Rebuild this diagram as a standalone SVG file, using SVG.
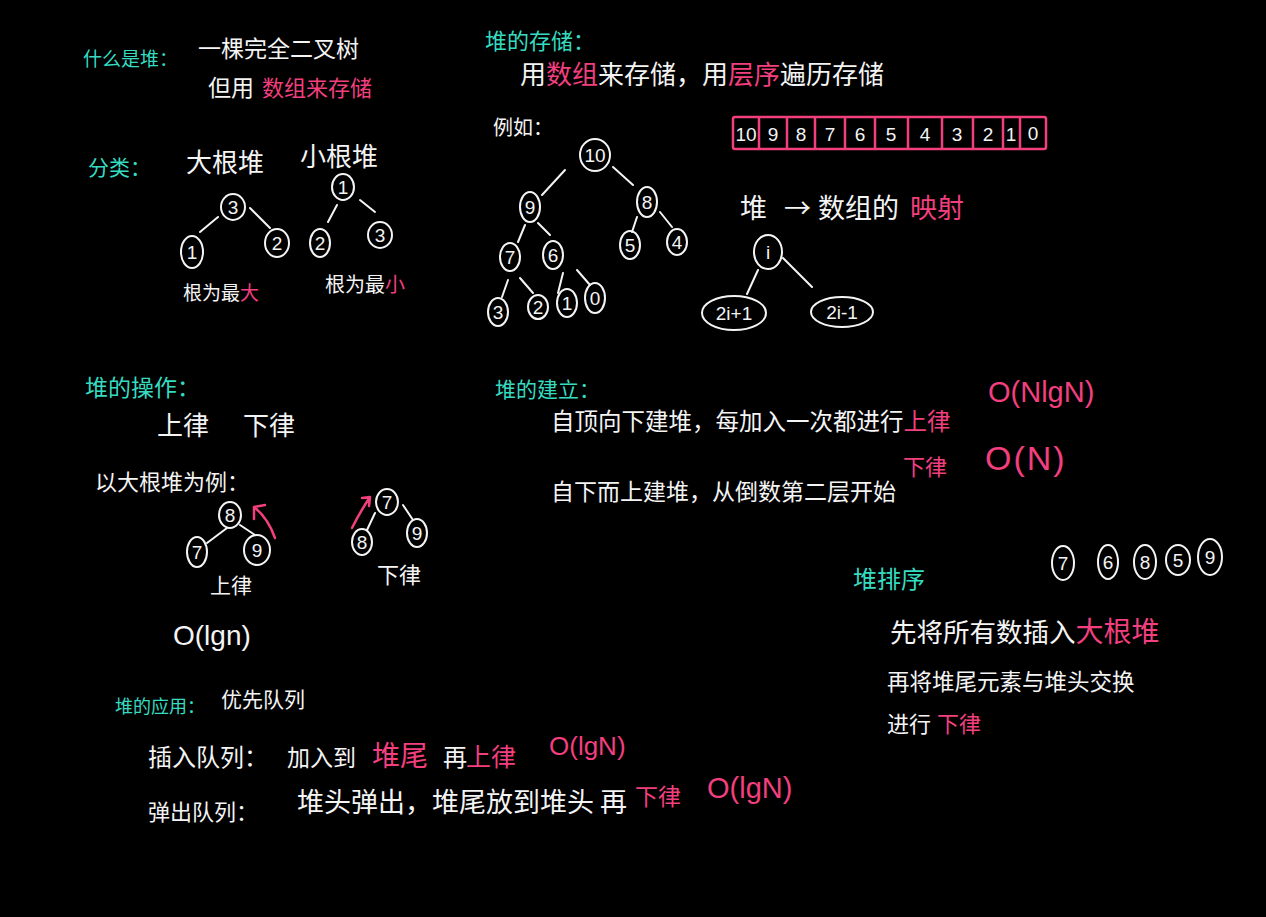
<svg xmlns="http://www.w3.org/2000/svg" width="1266" height="917" viewBox="0 0 1266 917">
<defs><style>
text{font-family:"Noto Sans CJK SC","Noto Sans",sans-serif;fill:#f4f4f4}
.c{fill:#35dcc0}
.p{fill:#f23f7e}
.m{font-family:"Liberation Sans","DejaVu Sans",sans-serif}
.n{font-family:"Liberation Sans","DejaVu Sans",sans-serif;text-anchor:middle;dominant-baseline:central;font-size:19px}
.nd{fill:none;stroke:#f4f4f4;stroke-width:2}
.e{fill:none;stroke:#f4f4f4;stroke-width:2;stroke-linecap:round}
.pa{fill:none;stroke:#f23f7e;stroke-width:2.5;stroke-linecap:round;stroke-linejoin:round}
.ab{fill:none;stroke:#f23f7e;stroke-width:2.5}
</style></defs>
<rect width="1266" height="917" fill="#000"/>

<g id="sec-what">
<text class="c" x="83" y="66" font-size="19">什么是堆：</text>
<text x="198" y="57" font-size="23">一棵完全二叉树</text>
<text x="208" y="96" font-size="23">但用<tspan class="p" x="262" font-size="22">数组来存储</tspan></text>
</g>

<g id="sec-class">
<text class="c" x="88" y="175" font-size="21">分类：</text>
<text x="186" y="172" font-size="26">大根堆</text>
<text x="300" y="166" font-size="26">小根堆</text>
<text x="183" y="300" font-size="19">根为最<tspan class="p">大</tspan></text>
<text x="325" y="292" font-size="20">根为最<tspan class="p">小</tspan></text>
</g>

<g id="sec-storage">
<text class="c" x="485" y="49" font-size="22">堆的存储：</text>
<text x="520" y="84" font-size="26">用<tspan class="p">数组</tspan>来存储，用<tspan class="p">层序</tspan>遍历存储</text>
<text x="493" y="135" font-size="20">例如：</text>
<text y="218" font-size="27"><tspan x="740">堆</tspan><tspan x="784">→</tspan><tspan x="818">数组的</tspan><tspan x="910" class="p">映射</tspan></text>
</g>

<g id="array">
<rect class="ab" x="733" y="117" width="313" height="32" rx="2"/>
<path class="ab" d="M759,117V149M787,117V149M815,117V149M845,117V149M875,117V149M908,117V149M942,117V149M973,117V149M1003,117V149M1020,117V149"/>
<text class="n" x="746" y="134" font-size="17">10</text>
<text class="n" x="773" y="134">9</text>
<text class="n" x="801" y="134">8</text>
<text class="n" x="830" y="134">7</text>
<text class="n" x="860" y="134">6</text>
<text class="n" x="891" y="134">5</text>
<text class="n" x="925" y="134">4</text>
<text class="n" x="957" y="134">3</text>
<text class="n" x="988" y="134">2</text>
<text class="n" x="1011" y="134">1</text>
<text class="n" x="1033" y="133">0</text>
</g>

<g id="sec-ops">
<text class="c" x="85" y="396" font-size="23">堆的操作：</text>
<text x="157" y="435" font-size="26">上律<tspan x="243">下律</tspan></text>
<text x="95" y="490" font-size="22">以大根堆为例：</text>
<text x="210" y="593" font-size="21">上律</text>
<text x="377" y="583" font-size="22">下律</text>
<text class="m" x="173" y="645" font-size="28">O(lgn)</text>
</g>

<g id="sec-build">
<text class="c" x="495" y="397" font-size="21">堆的建立：</text>
<text x="551" y="430" font-size="23.5">自顶向下建堆，每加入一次都进行<tspan class="p">上律</tspan></text>
<text class="p m" x="988" y="402" font-size="29">O(NlgN)</text>
<text x="551" y="500" font-size="23">自下而上建堆，从倒数第二层开始</text>
<text class="p" x="903" y="475" font-size="22">下律</text>
<text class="p m" x="985" y="470" font-size="34" letter-spacing="2">O(N)</text>
</g>

<g id="sec-sort">
<text class="c" x="853" y="588" font-size="24">堆排序</text>
<text x="890" y="642" font-size="26.5">先将所有数插入<tspan class="p" font-size="28">大根堆</tspan></text>
<text x="887" y="690" font-size="22.5">再将堆尾元素与堆头交换</text>
<text x="887" y="732" font-size="22">进行<tspan class="p" x="937">下律</tspan></text>
</g>

<g id="sec-app">
<text class="c" x="115" y="713" font-size="18">堆的应用：</text>
<text x="221" y="707" font-size="21">优先队列</text>
<text y="766" font-size="24"><tspan x="148">插入队列：</tspan><tspan x="287" font-size="23">加入到</tspan><tspan x="372" class="p" font-size="28">堆尾</tspan><tspan x="443">再</tspan><tspan x="466" class="p" font-size="25">上律</tspan></text>
<text class="p m" x="549" y="755" font-size="26">O(lgN)</text>
<text x="148" y="820" font-size="22">弹出队列：</text>
<text x="297" y="812" font-size="27">堆头弹出，堆尾放到堆头 再</text>
<text class="p" x="635" y="805" font-size="23">下律</text>
<text class="p m" x="707" y="798" font-size="29">O(lgN)</text>
</g>

<g id="connectors">
<path class="e" d="M218,217L200,232M250,208L270,228"/>
<path class="e" d="M337,205L328,222M360,200L375,212"/>
<path class="e" d="M565,170L542,195M613,167L633,185M525,225L518,242M538,223L550,235M637,217L632,232M660,212L672,227M508,280L502,297M520,278L533,293M563,273L558,293M577,270L590,285"/>
<path class="e" d="M758,270L747,294M783,258L812,287"/>
<path class="e" d="M227,528L207,543M240,525L255,535"/>
<path class="e" d="M375,513L367,530M403,505L413,520"/>
<path class="pa" d="M275,538Q268,518 254,507M265,505L254,507L254,519"/>
<path class="pa" d="M352,528Q360,512 370,497M362,498L370,497L369,506"/>
</g>

<g id="node-a3"><ellipse class="nd" cx="233" cy="207" rx="12" ry="13"/><text class="n" x="233" y="207">3</text></g>
<g id="node-a1"><ellipse class="nd" cx="192" cy="252" rx="11" ry="16"/><text class="n" x="192" y="252">1</text></g>
<g id="node-a2"><ellipse class="nd" cx="277" cy="243" rx="12" ry="14"/><text class="n" x="277" y="243">2</text></g>
<g id="node-b1"><ellipse class="nd" cx="343" cy="187" rx="11" ry="13"/><text class="n" x="343" y="187">1</text></g>
<g id="node-b2"><ellipse class="nd" cx="320" cy="243" rx="10" ry="14"/><text class="n" x="320" y="243">2</text></g>
<g id="node-b3"><ellipse class="nd" cx="380" cy="235" rx="12" ry="13"/><text class="n" x="380" y="235">3</text></g>

<g id="node-t10"><ellipse class="nd" cx="595" cy="155" rx="15" ry="16"/><text class="n" x="595" y="155">10</text></g>
<g id="node-t9"><ellipse class="nd" cx="530" cy="207" rx="10" ry="15"/><text class="n" x="530" y="207">9</text></g>
<g id="node-t8"><ellipse class="nd" cx="647" cy="202" rx="10" ry="15"/><text class="n" x="647" y="202">8</text></g>
<g id="node-t7"><ellipse class="nd" cx="510" cy="257" rx="10" ry="14"/><text class="n" x="510" y="257">7</text></g>
<g id="node-t6"><ellipse class="nd" cx="553" cy="255" rx="10" ry="14"/><text class="n" x="553" y="255">6</text></g>
<g id="node-t5"><ellipse class="nd" cx="630" cy="245" rx="10" ry="14"/><text class="n" x="630" y="245">5</text></g>
<g id="node-t4"><ellipse class="nd" cx="677" cy="242" rx="10" ry="13"/><text class="n" x="677" y="242">4</text></g>
<g id="node-t3"><ellipse class="nd" cx="498" cy="312" rx="10" ry="14"/><text class="n" x="498" y="312">3</text></g>
<g id="node-t2"><ellipse class="nd" cx="538" cy="307" rx="10" ry="12"/><text class="n" x="538" y="307">2</text></g>
<g id="node-t1"><ellipse class="nd" cx="567" cy="303" rx="10" ry="14"/><text class="n" x="567" y="303">1</text></g>
<g id="node-t0"><ellipse class="nd" cx="595" cy="298" rx="10" ry="15"/><text class="n" x="595" y="298">0</text></g>

<g id="node-i"><ellipse class="nd" cx="768" cy="252" rx="14" ry="17"/><text class="n" x="768" y="252">i</text></g>
<g id="node-2ip1"><ellipse class="nd" cx="734" cy="313" rx="32" ry="17"/><text class="n" x="734" y="313" font-size="21">2i+1</text></g>
<g id="node-2im1"><ellipse class="nd" cx="842" cy="312" rx="31" ry="15"/><text class="n" x="842" y="312" font-size="21">2i-1</text></g>

<g id="node-u8"><ellipse class="nd" cx="230" cy="515" rx="11" ry="13"/><text class="n" x="230" y="515">8</text></g>
<g id="node-u7"><ellipse class="nd" cx="197" cy="552" rx="10" ry="15"/><text class="n" x="197" y="552">7</text></g>
<g id="node-u9"><ellipse class="nd" cx="257" cy="550" rx="13" ry="15"/><text class="n" x="257" y="550">9</text></g>
<g id="node-d7"><ellipse class="nd" cx="387" cy="502" rx="11" ry="13"/><text class="n" x="387" y="502">7</text></g>
<g id="node-d8"><ellipse class="nd" cx="362" cy="542" rx="10" ry="13"/><text class="n" x="362" y="542">8</text></g>
<g id="node-d9"><ellipse class="nd" cx="417" cy="533" rx="10" ry="14"/><text class="n" x="417" y="533">9</text></g>

<g id="node-s7"><ellipse class="nd" cx="1063" cy="563" rx="11" ry="17"/><text class="n" x="1063" y="563">7</text></g>
<g id="node-s6"><ellipse class="nd" cx="1108" cy="562" rx="10" ry="17"/><text class="n" x="1108" y="562">6</text></g>
<g id="node-s8"><ellipse class="nd" cx="1145" cy="562" rx="11" ry="17"/><text class="n" x="1145" y="562">8</text></g>
<g id="node-s5"><ellipse class="nd" cx="1178" cy="560" rx="12" ry="15"/><text class="n" x="1178" y="560">5</text></g>
<g id="node-s9"><ellipse class="nd" cx="1210" cy="557" rx="12" ry="18"/><text class="n" x="1210" y="557">9</text></g>
</svg>
